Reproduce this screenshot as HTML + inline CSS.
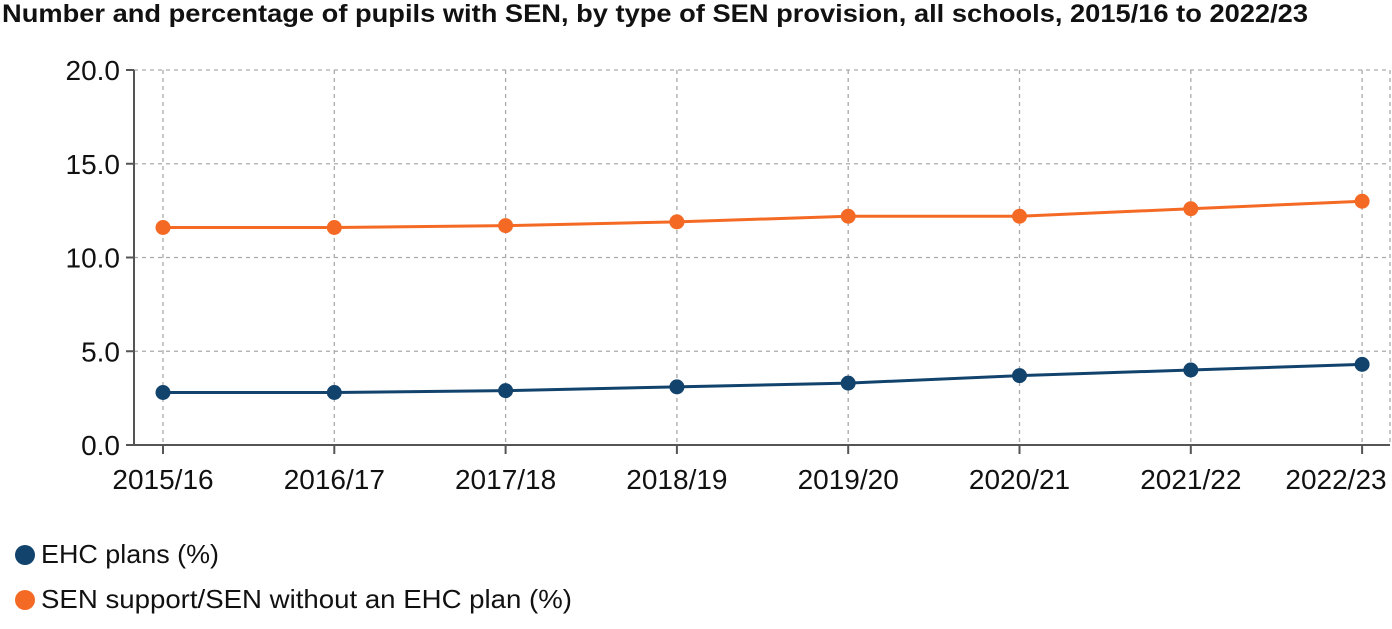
<!DOCTYPE html>
<html><head><meta charset="utf-8"><style>
body{margin:0;background:#fff;font-family:"Liberation Sans",sans-serif;}
svg text{font-family:"Liberation Sans",sans-serif;}
</style></head><body>
<svg width="1392" height="624" viewBox="0 0 1392 624" id="c">
<text x="2" y="22" font-size="25" font-weight="bold" fill="#111" textLength="1306" lengthAdjust="spacingAndGlyphs">Number and percentage of pupils with SEN, by type of SEN provision, all schools, 2015/16 to 2022/23</text>
<g id="grid"></g><g id="axes"></g><g id="series"></g>
<g>
<circle cx="25" cy="555" r="10" fill="#12436d"/>
<text x="41" y="563" font-size="26" fill="#111" textLength="178" lengthAdjust="spacingAndGlyphs">EHC plans (%)</text>
<circle cx="25" cy="600" r="10" fill="#f46a25"/>
<text x="41" y="608" font-size="26" fill="#111" textLength="531" lengthAdjust="spacingAndGlyphs">SEN support/SEN without an EHC plan (%)</text>
</g>
</svg>
<script>
const categories=["2015/16","2016/17","2017/18","2018/19","2019/20","2020/21","2021/22","2022/23"];
const ehcValues=[2.8,2.8,2.9,3.1,3.3,3.7,4.0,4.3];
const senSupportValues=[11.6,11.6,11.7,11.9,12.2,12.2,12.6,13.0];
const yTicks=[0,5,10,15,20];
const yTickLabels=["0.0","5.0","10.0","15.0","20.0"];
const NS="http://www.w3.org/2000/svg";
const x0=163,dx=171.3,yBase=445,yTop=70,yMax=20,axisX=134;
const xs=i=>x0+i*dx;
const ys=v=>yBase-(v/yMax)*(yBase-yTop);
function mk(p,tag,at){const e=document.createElementNS(NS,tag);for(const k in at)e.setAttribute(k,at[k]);p.appendChild(e);return e;}
const grid=document.getElementById('grid'),axes=document.getElementById('axes'),ser=document.getElementById('series');
yTicks.forEach((t,i)=>{
 const l=mk(grid,'line',{x1:axisX,x2:1390,y1:ys(t),y2:ys(t),stroke:'#aaa','stroke-dasharray':'4 4','stroke-width':1.3});
 
 
 const tk=mk(axes,'line',{x1:axisX-8,x2:axisX,y1:ys(t),y2:ys(t),stroke:'#555','stroke-width':2});
 
 
 const tx=mk(axes,'text',{x:axisX-14,y:ys(t)+10,'text-anchor':'end','font-size':28,fill:'#111'});
 tx.textContent=yTickLabels[i];
 
 
});
mk(grid,'line',{x1:1390,x2:1390,y1:yTop,y2:yBase,stroke:'#aaa','stroke-dasharray':'4 4','stroke-width':1.3});
categories.forEach((c,i)=>{
 const l=mk(grid,'line',{x1:xs(i),x2:xs(i),y1:yTop,y2:yBase,stroke:'#aaa','stroke-dasharray':'4 4','stroke-width':1.3});
 
 
 const tk=mk(axes,'line',{x1:xs(i),x2:xs(i),y1:yBase,y2:yBase+9,stroke:'#555','stroke-width':2});
 
 
 const tx=mk(axes,'text',{x:Math.min(xs(i),1336),y:489,'text-anchor':'middle','font-size':28,fill:'#111'});
 tx.textContent=c;
 
 
});
const ya=mk(axes,'line',{x1:axisX,x2:axisX,y1:yTop,y2:yBase,stroke:'#555','stroke-width':2});


const xa=mk(axes,'line',{x1:axisX,x2:1390,y1:yBase,y2:yBase,stroke:'#555','stroke-width':2});


[[ehcValues,'#12436d','ehc'],[senSupportValues,'#f46a25','sen-support']].forEach(([vals,col,nm])=>{
 const pl=mk(ser,'polyline',{points:vals.map((v,i)=>xs(i)+','+ys(v)).join(' '),fill:'none',stroke:col,'stroke-width':3});
 
 
 vals.forEach((v,i)=>{
  const p=mk(ser,'circle',{cx:xs(i),cy:ys(v),r:7.5,fill:col});
  
  
 });
});
</script>
</body></html>
